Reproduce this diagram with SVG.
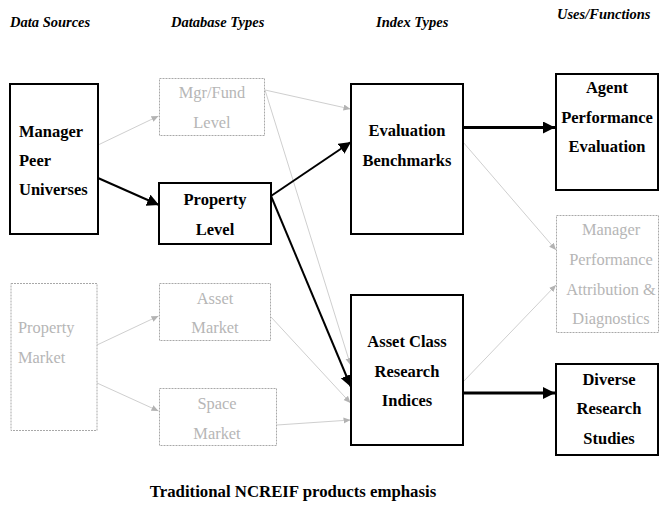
<svg xmlns="http://www.w3.org/2000/svg" width="660" height="513" viewBox="0 0 660 513">
  <style>
    text { font-family: "Liberation Serif", Tinos, "Times New Roman", Times, "DejaVu Serif", serif; }
    .hdr { font-size: 14.5px; font-weight: bold; font-style: italic; fill: #000; }
    .bold { font-size: 16.5px; font-weight: bold; fill: #000; }
    .faint { font-size: 16.4px; fill: #b6b6b6; }
    .mid { text-anchor: middle; }
    .box { fill: #fff; stroke: #000; stroke-width: 2; }
    .dbox { fill: #fff; stroke: #a8a8a8; stroke-width: 1; stroke-dasharray: 2 1; }
    .main { fill: none; stroke: #000; stroke-width: 2; marker-end: url(#arrowDark); }
    .thick { stroke-width: 3; }
    .light { fill: none; stroke: #cfcfcf; stroke-width: 1; marker-end: url(#arrowLight); }
  </style>
  <defs>
    <marker id="arrowDark" markerUnits="userSpaceOnUse" markerWidth="13" markerHeight="13" refX="12" refY="6" orient="auto">
      <path d="M0,0 L12,6 L0,12 z" fill="#000"/>
    </marker>
    <marker id="arrowLight" markerUnits="userSpaceOnUse" markerWidth="8" markerHeight="8" refX="7" refY="3" orient="auto">
      <path d="M0,0 L7,3 L0,6 z" fill="#b3b3b3"/>
    </marker>
  </defs>
  <rect width="660" height="513" fill="#fff"/>

  <!-- column headings -->
  <g id="headings">
    <text class="hdr" x="10" y="27">Data Sources</text>
    <text class="hdr" x="171" y="27">Database Types</text>
    <text class="hdr" x="376" y="27">Index Types</text>
    <text class="hdr" x="557" y="19">Uses/Functions</text>
  </g>

  <!-- connectors -->
  <g id="connectors">
    <line class="light" x1="98" y1="145" x2="158.5" y2="116"/>
    <line class="light" x1="265" y1="90" x2="350.5" y2="109"/>
    <line class="light" x1="265" y1="90" x2="350.5" y2="365"/>
    <line class="light" x1="97" y1="345" x2="158.5" y2="316"/>
    <line class="light" x1="97" y1="383" x2="158.5" y2="411"/>
    <line class="light" x1="271" y1="317" x2="350.5" y2="403"/>
    <line class="light" x1="277" y1="425" x2="350.5" y2="420"/>
    <line class="light" x1="463" y1="142" x2="556" y2="250"/>
    <line class="light" x1="463" y1="382" x2="556" y2="285"/>
    <line class="main" x1="98" y1="178" x2="159" y2="205"/>
    <line class="main" x1="271" y1="196" x2="351" y2="142"/>
    <line class="main" x1="271" y1="196" x2="351" y2="387"/>
    <line class="main thick" x1="463" y1="127.5" x2="555" y2="127.5"/>
    <line class="main thick" x1="463" y1="393" x2="555" y2="393"/>
  </g>

  <!-- data sources -->
  <g id="manager-peer-universes">
    <rect class="box" x="10" y="84" width="88" height="150"/>
    <text class="bold" x="19" y="137">Manager</text>
    <text class="bold" x="19" y="166">Peer</text>
    <text class="bold" x="19" y="195">Universes</text>
  </g>
  <g id="property-market">
    <rect class="dbox" x="11" y="283.5" width="86" height="147"/>
    <text class="faint" x="18" y="333">Property</text>
    <text class="faint" x="18" y="363">Market</text>
  </g>

  <!-- database types -->
  <g id="mgr-fund-level">
    <rect class="dbox" x="159.5" y="78.5" width="105" height="57"/>
    <text class="faint mid" x="212" y="98">Mgr/Fund</text>
    <text class="faint mid" x="212" y="128">Level</text>
  </g>
  <g id="property-level">
    <rect class="box" x="159" y="183" width="112" height="61"/>
    <text class="bold mid" x="215" y="205">Property</text>
    <text class="bold mid" x="215" y="235">Level</text>
  </g>
  <g id="asset-market">
    <rect class="dbox" x="159.5" y="283.5" width="111" height="57"/>
    <text class="faint mid" x="215" y="304">Asset</text>
    <text class="faint mid" x="215" y="333">Market</text>
  </g>
  <g id="space-market">
    <rect class="dbox" x="159.5" y="388.5" width="117" height="57"/>
    <text class="faint mid" x="217" y="409">Space</text>
    <text class="faint mid" x="217" y="439">Market</text>
  </g>

  <!-- index types -->
  <g id="evaluation-benchmarks">
    <rect class="box" x="351" y="84" width="112" height="150"/>
    <text class="bold mid" x="407" y="136">Evaluation</text>
    <text class="bold mid" x="407" y="166">Benchmarks</text>
  </g>
  <g id="asset-class-research-indices">
    <rect class="box" x="351" y="295" width="112" height="150"/>
    <text class="bold mid" x="407" y="347">Asset Class</text>
    <text class="bold mid" x="407" y="377">Research</text>
    <text class="bold mid" x="407" y="406">Indices</text>
  </g>

  <!-- uses / functions -->
  <g id="agent-performance-evaluation">
    <rect class="box" x="556" y="74" width="102" height="116"/>
    <text class="bold mid" x="607" y="93">Agent</text>
    <text class="bold mid" x="607" y="123">Performance</text>
    <text class="bold mid" x="607" y="152">Evaluation</text>
  </g>
  <g id="manager-performance-attribution">
    <rect class="dbox" x="556.5" y="215.5" width="102" height="117"/>
    <text class="faint mid" x="611" y="235">Manager</text>
    <text class="faint mid" x="611" y="265">Performance</text>
    <text class="faint mid" x="611" y="295">Attribution &amp;</text>
    <text class="faint mid" x="611" y="324">Diagnostics</text>
  </g>
  <g id="diverse-research-studies">
    <rect class="box" x="556" y="364" width="102" height="91"/>
    <text class="bold mid" x="609" y="385">Diverse</text>
    <text class="bold mid" x="609" y="414">Research</text>
    <text class="bold mid" x="609" y="444">Studies</text>
  </g>

  <!-- caption -->
  <text id="caption" class="bold mid" x="293" y="497" style="font-size:16.8px">Traditional NCREIF products emphasis</text>
</svg>
